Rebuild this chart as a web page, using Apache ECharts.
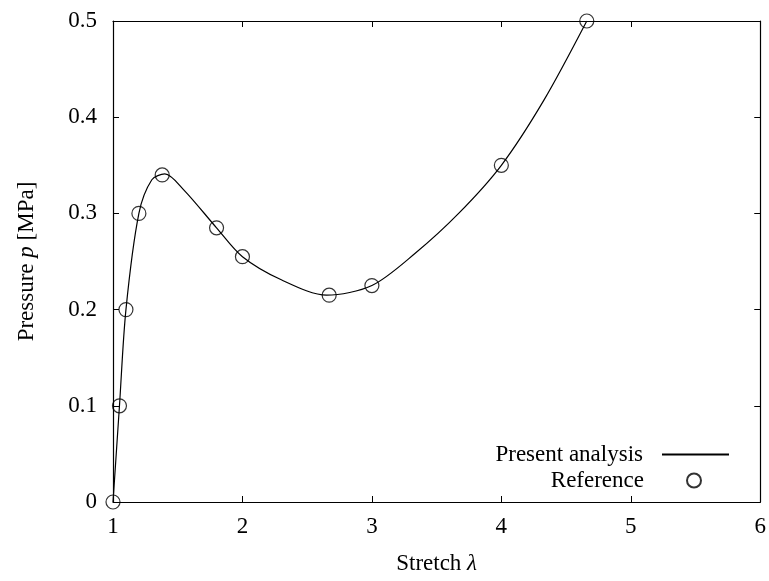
<!DOCTYPE html>
<html>
<head>
<meta charset="utf-8">
<script src="https://cdn.jsdelivr.net/npm/echarts@6/dist/echarts.min.js"></script>
<style>
  html, body { margin: 0; padding: 0; background: #fff; }
  #chart { width: 769px; height: 581px; }
</style>
</head>
<body>
<div id="chart"></div>
<script>
// reference points (circles)
const refStretch = [1, 1.05, 1.1, 1.2, 1.38, 1.8, 2, 2.67, 3, 4, 4.66]
const refPressure = [0, 0.1, 0.2, 0.3, 0.34, 0.285, 0.255, 0.215, 0.225, 0.35, 0.5]

// present analysis curve
const curveStretch = [1, 1.05, 1.1, 1.2, 1.3, 1.4, 1.55, 1.8, 2.0, 2.3, 2.65, 3.0, 3.33, 3.67, 4.0, 4.33, 4.66]
const curvePressure = [0, 0.1, 0.2, 0.3, 0.335, 0.341, 0.324, 0.285, 0.255, 0.231, 0.215, 0.225, 0.258, 0.3, 0.35, 0.418, 0.5]

const xTicks = [1, 2, 3, 4, 5, 6]
const yTicks = [0, 0.1, 0.2, 0.3, 0.4, 0.5]

const font = 'Liberation Serif'
const fontSize = 23

const chart = echarts.init(document.getElementById('chart'))

const tick = { show: true, inside: true, length: 6, lineStyle: { color: '#000', width: 1 } }
const line = { show: true, onZero: false, lineStyle: { color: '#000', width: 1.2 } }

chart.setOption({
  animation: false,
  grid: { left: 113, right: 8, top: 21, bottom: 79 },
  legend: [
    {
      data: ['Present analysis'],
      right: 39,
      top: 443,
      padding: 0,
      align: 'right',
      itemWidth: 67,
      itemHeight: 14,
      itemStyle: { opacity: 0 },
      textStyle: { fontFamily: font, fontSize: fontSize, color: '#000', padding: [0, 14, 0, 0] }
    },
    {
      data: ['Reference'],
      right: 67,
      top: 469,
      padding: 0,
      align: 'right',
      itemWidth: 14,
      itemHeight: 14,
      textStyle: { fontFamily: font, fontSize: fontSize, color: '#000', padding: [0, 38, 0, 0] }
    }
  ],
  xAxis: [
    {
      type: 'value',
      min: xTicks[0],
      max: xTicks[xTicks.length - 1],
      interval: 1,
      position: 'bottom',
      name: 'Stretch {i|λ}',
      nameLocation: 'middle',
      nameGap: 50,
      nameTextStyle: {
        fontFamily: font, fontSize: fontSize, color: '#000',
        rich: { i: { fontFamily: font, fontSize: fontSize, fontStyle: 'italic', color: '#000' } }
      },
      axisLine: line,
      axisTick: tick,
      axisLabel: { fontFamily: font, fontSize: fontSize, color: '#000', margin: 13 },
      splitLine: { show: false }
    },
    {
      type: 'value',
      min: xTicks[0],
      max: xTicks[xTicks.length - 1],
      interval: 1,
      position: 'top',
      axisLine: line,
      axisTick: tick,
      axisLabel: { show: false },
      splitLine: { show: false }
    }
  ],
  yAxis: [
    {
      type: 'value',
      min: yTicks[0],
      max: yTicks[yTicks.length - 1],
      interval: 0.1,
      position: 'left',
      name: 'Pressure {i|p} [MPa]',
      nameLocation: 'middle',
      nameGap: 75,
      nameTextStyle: {
        fontFamily: font, fontSize: fontSize, color: '#000',
        rich: { i: { fontFamily: font, fontSize: fontSize, fontStyle: 'italic', color: '#000' } }
      },
      axisLine: line,
      axisTick: tick,
      axisLabel: { fontFamily: font, fontSize: fontSize, color: '#000', margin: 16 },
      splitLine: { show: false }
    },
    {
      type: 'value',
      min: yTicks[0],
      max: yTicks[yTicks.length - 1],
      interval: 0.1,
      position: 'right',
      axisLine: line,
      axisTick: tick,
      axisLabel: { show: false },
      splitLine: { show: false }
    }
  ],
  series: [
    {
      name: 'Present analysis',
      type: 'line',
      data: curveStretch.map((x, i) => [x, curvePressure[i]]),
      smooth: 0.3,
      symbol: 'none',
      lineStyle: { color: '#000', width: 1.2 },
      itemStyle: { color: '#000' }
    },
    {
      name: 'Reference',
      type: 'scatter',
      data: refStretch.map((x, i) => [x, refPressure[i]]),
      symbol: 'circle',
      symbolSize: 14,
      itemStyle: { color: 'transparent', borderColor: '#000', borderWidth: 1.2 }
    }
  ]
})
</script>
</body>
</html>
